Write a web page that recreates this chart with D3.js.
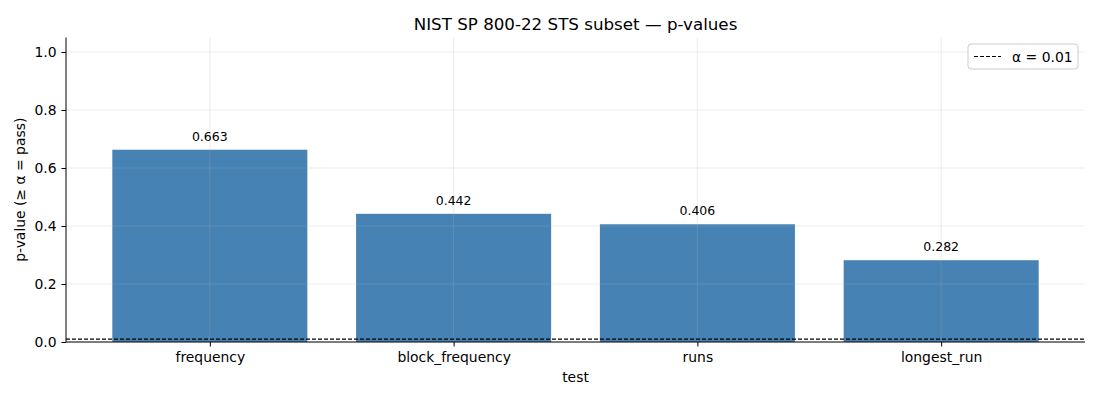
<!DOCTYPE html>
<html>
<head>
<meta charset="utf-8">
<script src="https://cdn.jsdelivr.net/npm/d3@7"></script>
<style>
  body { margin: 0; background: #fff; }
  text { font-family: "DejaVu Sans", sans-serif; fill: #000; }
</style>
</head>
<body>
<svg id="chart" width="1100" height="400"></svg>
<script>
const tests = ["frequency", "block_frequency", "runs", "longest_run"];
const pValues = [0.663, 0.442, 0.406, 0.282];
const yTicks = [0.0, 0.2, 0.4, 0.6, 0.8, 1.0];
const alpha = 0.01;

const svg = d3.select("#chart");
const margin = { top: 37.5, right: 15, bottom: 58, left: 66 };
const width = 1100, height = 400;
const x0 = margin.left, x1 = width - margin.right;
const y0 = height - margin.bottom, y1 = margin.top;

// numeric x like matplotlib: bars of width 0.8, 5% margin
const x = d3.scaleLinear().domain([-0.59, tests.length - 1 + 0.59]).range([x0, x1]);
const y = d3.scaleLinear().domain([0, 1.05]).range([y0, y1]);
const barW = x(0.8) - x(0);

// bars
svg.append("g").selectAll("rect")
  .data(pValues)
  .enter().append("rect")
  .attr("x", (d, i) => x(i - 0.4))
  .attr("y", d => y(d))
  .attr("width", barW)
  .attr("height", d => y(0) - y(d))
  .attr("fill", "#4682b4");

// grid (drawn over bars)
const grid = svg.append("g").attr("stroke", "#b0b0b0").attr("stroke-opacity", 0.3).attr("stroke-width", 0.8);
yTicks.forEach(t => grid.append("line").attr("x1", x0).attr("x2", x1).attr("y1", y(t)).attr("y2", y(t)));
tests.forEach((t, i) => grid.append("line").attr("x1", x(i)).attr("x2", x(i)).attr("y1", y0).attr("y2", y1));

// alpha line
svg.append("line")
  .attr("x1", x0).attr("x2", x1)
  .attr("y1", y(alpha)).attr("y2", y(alpha))
  .attr("stroke", "#000").attr("stroke-width", 1.1)
  .attr("stroke-dasharray", "4,2");

// value labels
svg.append("g").selectAll("text")
  .data(pValues)
  .enter().append("text")
  .attr("x", (d, i) => x(i))
  .attr("y", d => y(d) - 9)
  .attr("text-anchor", "middle")
  .style("font-size", "12.5px")
  .text(d => d.toFixed(3));

// axes
const xAxis = svg.append("g")
  .attr("transform", `translate(0,${y0})`)
  .call(d3.axisBottom(x).tickValues(d3.range(tests.length)).tickFormat(i => tests[i]).tickSize(4.5).tickPadding(6));
xAxis.select(".domain").attr("d", `M${x0},0H${x1}`);
xAxis.selectAll("text").style("font-size", "13.9px").style("font-family", "DejaVu Sans");

const yAxis = svg.append("g")
  .attr("transform", `translate(${x0},0)`)
  .call(d3.axisLeft(y).tickValues(yTicks).tickFormat(d3.format(".1f")).tickSize(4.5).tickPadding(5));
yAxis.select(".domain").attr("d", `M0,${y0}V${y1}`);
yAxis.selectAll("text").style("font-size", "13.9px").style("font-family", "DejaVu Sans");

// titles
svg.append("text").attr("x", (x0 + x1) / 2).attr("y", 30).attr("text-anchor", "middle")
  .style("font-size", "16.7px").text("NIST SP 800-22 STS subset — p-values");
svg.append("text").attr("x", (x0 + x1) / 2).attr("y", 382).attr("text-anchor", "middle")
  .style("font-size", "13.9px").text("test");
svg.append("text").attr("transform", `translate(25,${(y0 + y1) / 2}) rotate(-90)`).attr("text-anchor", "middle")
  .style("font-size", "13.9px").text("p-value (≥ α = pass)");

// legend
const lg = svg.append("g").attr("transform", "translate(968,44)");
lg.append("rect").attr("width", 110).attr("height", 25).attr("rx", 3)
  .attr("fill", "#fff").attr("fill-opacity", 0.8).attr("stroke", "#ccc");
lg.append("line").attr("x1", 6).attr("x2", 33).attr("y1", 12.5).attr("y2", 12.5)
  .attr("stroke", "#000").attr("stroke-width", 1.1).attr("stroke-dasharray", "4,2");
lg.append("text").attr("x", 44).attr("y", 17.5).style("font-size", "13.9px").text("α = 0.01");
</script>
</body>
</html>
